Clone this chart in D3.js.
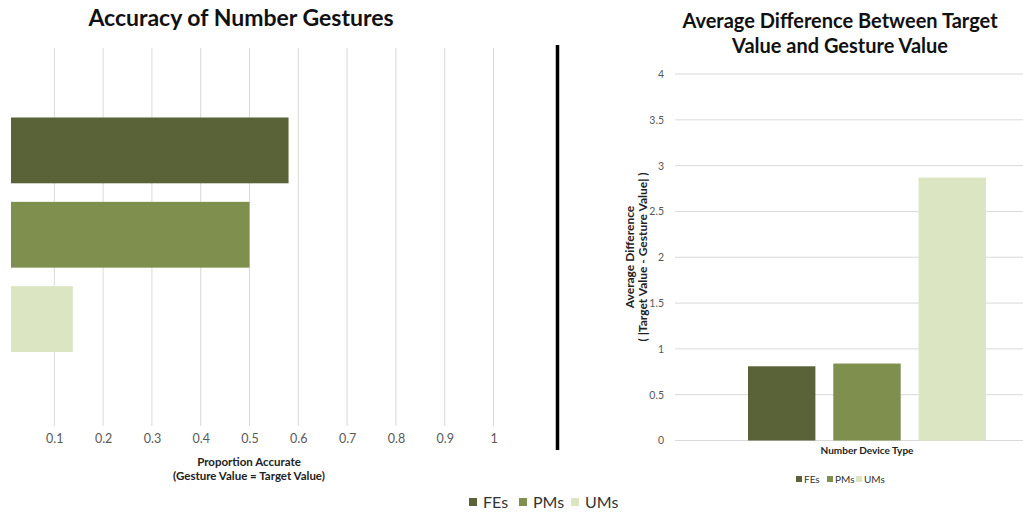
<!DOCTYPE html>
<html>
<head>
<meta charset="utf-8">
<script src="https://cdn.jsdelivr.net/npm/d3@7"></script>
<style>
  body { margin: 0; background: #fff; }
  svg { display: block; font-family: Lato, "Open Sans", sans-serif; }
</style>
</head>
<body>
<div id="chart"></div>
<script>
// series shared by both charts
const series = ["FEs", "PMs", "UMs"];
const seriesColors = ["#5a6337", "#7f8f4d", "#dce5c2"];

// left chart: proportion accurate
const accuracy = [0.58, 0.50, 0.138];
const accuracyTicks = [0.1, 0.2, 0.3, 0.4, 0.5, 0.6, 0.7, 0.8, 0.9, 1];

// right chart: average difference
const avgDiff = [0.81, 0.84, 2.87];
const diffTicks = [0, 0.5, 1, 1.5, 2, 2.5, 3, 3.5, 4];

const W = 1023, H = 515;
const color = d3.scaleOrdinal().domain(series).range(seriesColors);

let svg = d3.select("#chart").append("svg")
  .attr("width", W).attr("height", H);

//---------------- left chart ----------------
let xLeft = d3.scaleLinear().domain([0, 1]).range([5.5, 493.5]);
let yLeft = d3.scaleBand().domain(series).range([117.5, 352]).paddingInner(0.22);

svg.append("text")
  .attr("x", 241).attr("y", 26)
  .attr("text-anchor", "middle")
  .attr("font-size", 23).attr("font-weight", "bold").attr("fill", "#111")
  .text("Accuracy of Number Gestures");

// vertical gridlines
svg.append("g").selectAll("line")
  .data(accuracyTicks)
  .join("line")
  .attr("x1", d => xLeft(d)).attr("x2", d => xLeft(d))
  .attr("y1", 48).attr("y2", 426)
  .attr("stroke", "#d9d9d9").attr("stroke-width", 1);

// bars clipped at plot left edge
svg.append("clipPath").attr("id", "leftClip")
  .append("rect").attr("x", 11).attr("y", 0).attr("width", 540).attr("height", H);

svg.append("g").attr("clip-path", "url(#leftClip)")
  .selectAll("rect")
  .data(series)
  .join("rect")
  .attr("x", xLeft(0))
  .attr("y", d => yLeft(d))
  .attr("width", (d, i) => xLeft(accuracy[i]) - xLeft(0))
  .attr("height", yLeft.bandwidth())
  .attr("fill", d => color(d));

// x axis labels
let xAxisLeft = d3.axisBottom(xLeft).tickValues(accuracyTicks).tickSize(0).tickPadding(0)
  .tickFormat(d3.format("~g"));
let gxl = svg.append("g").attr("transform", "translate(0,434)").call(xAxisLeft);
gxl.select(".domain").remove();
gxl.selectAll("text").attr("font-size", 12.5).attr("fill", "#595959").attr("font-family", "Lato, sans-serif");

svg.append("text")
  .attr("x", 249).attr("y", 466).attr("text-anchor", "middle")
  .attr("font-size", 11.5).attr("font-weight", "bold").attr("fill", "#222")
  .text("Proportion Accurate");
svg.append("text")
  .attr("x", 249).attr("y", 480).attr("text-anchor", "middle")
  .attr("font-size", 11.5).attr("font-weight", "bold").attr("fill", "#222")
  .text("(Gesture Value = Target Value)");

// divider
svg.append("line")
  .attr("x1", 557.5).attr("x2", 557.5).attr("y1", 45).attr("y2", 450)
  .attr("stroke", "#000").attr("stroke-width", 3.5);

// bottom legend
let legBottom = svg.append("g");
const legBottomX = [469, 519, 571];
series.forEach((s, i) => {
  legBottom.append("rect")
    .attr("x", legBottomX[i]).attr("y", 498).attr("width", 8).attr("height", 8)
    .attr("fill", color(s));
  legBottom.append("text")
    .attr("x", legBottomX[i] + 14).attr("y", 508)
    .attr("font-size", 16).attr("fill", "#333")
    .text(s);
});

//---------------- right chart ----------------
let yRight = d3.scaleLinear().domain([0, 4]).range([440.5, 74]);
let xRight = d3.scaleBand().domain(series).range([748, 986]).paddingInner(0.21);

svg.append("text")
  .attr("x", 840).attr("y", 28).attr("text-anchor", "middle")
  .attr("font-size", 20).attr("font-weight", "bold").attr("fill", "#111")
  .text("Average Difference Between Target");
svg.append("text")
  .attr("x", 840).attr("y", 53).attr("text-anchor", "middle")
  .attr("font-size", 20).attr("font-weight", "bold").attr("fill", "#111")
  .text("Value and Gesture Value");

// horizontal gridlines
svg.append("g").selectAll("line")
  .data(diffTicks)
  .join("line")
  .attr("x1", 675).attr("x2", W)
  .attr("y1", d => yRight(d)).attr("y2", d => yRight(d))
  .attr("stroke", "#d9d9d9").attr("stroke-width", 1);

let yAxisRight = d3.axisLeft(yRight).tickValues(diffTicks).tickSize(0).tickPadding(0)
  .tickFormat(d3.format("~g"));
let gyr = svg.append("g").attr("transform", "translate(664,0)").call(yAxisRight);
gyr.select(".domain").remove();
gyr.selectAll("text").attr("font-size", 10.5).attr("fill", "#595959").attr("font-family", "Lato, sans-serif");

svg.append("g").selectAll("rect")
  .data(series)
  .join("rect")
  .attr("x", d => xRight(d))
  .attr("y", (d, i) => yRight(avgDiff[i]))
  .attr("width", xRight.bandwidth())
  .attr("height", (d, i) => yRight(0) - yRight(avgDiff[i]))
  .attr("fill", d => color(d));

// axis titles
svg.append("text")
  .attr("transform", "translate(634,257) rotate(-90)")
  .attr("text-anchor", "middle")
  .attr("font-size", 12).attr("font-weight", "bold").attr("fill", "#222")
  .text("Average Difference");
svg.append("text")
  .attr("transform", "translate(647,257) rotate(-90)")
  .attr("text-anchor", "middle")
  .attr("font-size", 12).attr("font-weight", "bold").attr("fill", "#222")
  .text("( |Target Value - Gesture Value| )");

svg.append("text")
  .attr("x", 867).attr("y", 454).attr("text-anchor", "middle")
  .attr("font-size", 10).attr("font-weight", "bold").attr("fill", "#222")
  .text("Number Device Type");

// right legend
let legRight = svg.append("g");
const legRightX = [796, 827, 856];
series.forEach((s, i) => {
  legRight.append("rect")
    .attr("x", legRightX[i]).attr("y", 476).attr("width", 6).attr("height", 6)
    .attr("fill", color(s));
  legRight.append("text")
    .attr("x", legRightX[i] + 8).attr("y", 482.5)
    .attr("font-size", 10).attr("fill", "#333")
    .text(s);
});
</script>
</body>
</html>
